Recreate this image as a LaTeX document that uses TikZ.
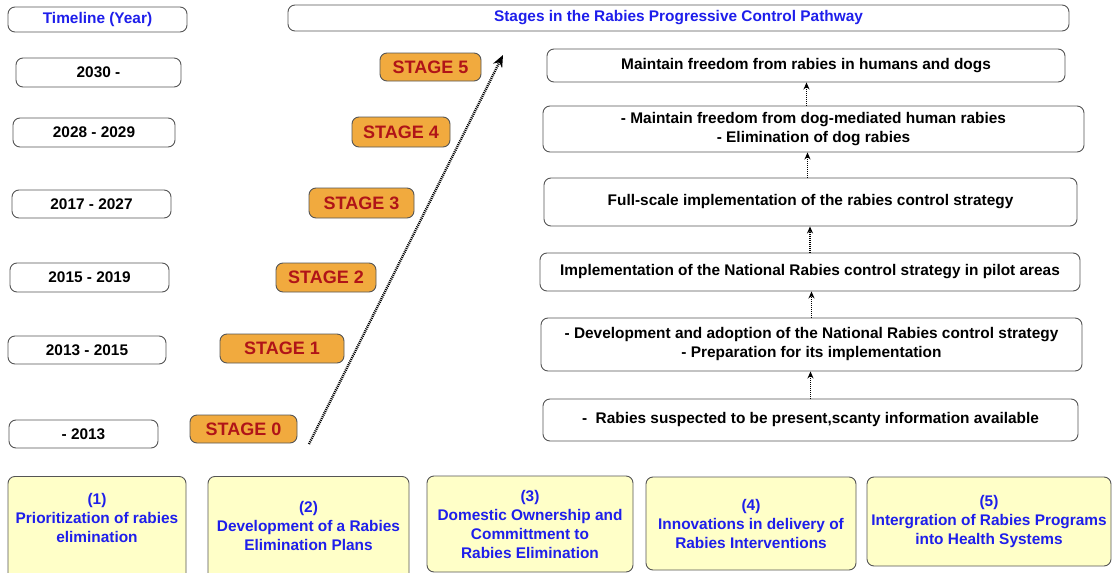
\documentclass[tikz,border=0pt]{standalone}
\usepackage{fontspec}
\setmainfont{Liberation Sans}
\usetikzlibrary{arrows.meta}
\definecolor{hdrblue}{RGB}{30,30,235}
\definecolor{stagefill}{RGB}{241,170,62}
\definecolor{stagetext}{RGB}{176,20,24}
\definecolor{paleyellow}{RGB}{255,255,200}
\definecolor{edgegray}{RGB}{85,85,85}
\tikzset{
  basebox/.style={draw=edgegray, line width=0.9pt, rounded corners=7pt, inner sep=0pt, align=center,
    font=\fontsize{15.4}{19}\selectfont\bfseries},
  headbox/.style={basebox, fill=white, text=hdrblue},
  yearbox/.style={basebox, fill=white, text=black},
  stagebox/.style={basebox, fill=stagefill, text=stagetext, font=\fontsize{18}{22}\selectfont\bfseries},
  pathbox/.style={basebox, fill=white, text=black},
  pillar/.style={basebox, fill=paleyellow, text=hdrblue},
  pillartext/.style={align=center, text=hdrblue, font=\fontsize{15.4}{19}\selectfont\bfseries},
  steparrow/.style={draw=black, line width=1.4pt, dash pattern=on 1pt off 1pt, -{Stealth[length=7pt,width=6pt]}},
  bigarrow/.style={draw=black, line width=2.4pt, dash pattern=on 1pt off 1pt, -{Stealth[length=12pt,width=10pt]}}
}
\begin{document}
\begin{tikzpicture}[x=1pt,y=-1pt]
\useasboundingbox (0,0) rectangle (1112,573);
\clip (0,0) rectangle (1112,573);
% headers
\node[headbox, minimum width=179pt, minimum height=25pt] (tl) at (97.5,19.5) {Timeline (Year)};
\node[headbox, minimum width=781pt, minimum height=26pt] (st) at (678.5,18) {Stages in the Rabies Progressive Control Pathway};
% years
\node[yearbox, minimum width=165pt, minimum height=29pt] (y5) at (98.5,72.5) {2030 -};
\node[yearbox, minimum width=162pt, minimum height=29pt] (y4) at (94,132.5) {2028 - 2029};
\node[yearbox, minimum width=159pt, minimum height=28pt] (y3) at (91.5,204) {2017 - 2027};
\node[yearbox, minimum width=159pt, minimum height=29pt] (y2) at (89.5,277.5) {2015 - 2019};
\node[yearbox, minimum width=158pt, minimum height=28pt] (y1) at (87,350) {2013 - 2015};
\node[yearbox, minimum width=149pt, minimum height=28pt] (y0) at (83.5,434) {- 2013};
% stages
\node[stagebox, minimum width=101pt, minimum height=28pt] (s5) at (430.5,67) {STAGE 5};
\node[stagebox, minimum width=98pt, minimum height=30pt] (s4) at (401,132) {STAGE 4};
\node[stagebox, minimum width=105pt, minimum height=30pt] (s3) at (361.5,203) {STAGE 3};
\node[stagebox, minimum width=100pt, minimum height=29pt] (s2) at (326,277.5) {STAGE 2};
\node[stagebox, minimum width=124pt, minimum height=29pt] (s1) at (282,348.5) {STAGE 1};
\node[stagebox, minimum width=107pt, minimum height=28pt] (s0) at (243.5,429) {STAGE 0};
% diagonal progression arrow
\coordinate (dstart) at (309,444);
\coordinate (dend) at (503,55);
\draw[bigarrow] (dstart) -- (dend);
% pathway boxes
\node[pathbox, minimum width=518pt, minimum height=33pt] (r5) at (806,65.5) {Maintain freedom from rabies in humans and dogs};
\node[pathbox, minimum width=541pt, minimum height=46pt] (r4) at (813.5,129) {- Maintain freedom from dog-mediated human rabies\\- Elimination of dog rabies};
\node[pathbox, minimum width=533pt, minimum height=48pt] (r3) at (810.5,202) {Full-scale implementation of the rabies control strategy};
\node[pathbox, minimum width=540pt, minimum height=38pt] (r2) at (810,272) {Implementation of the National Rabies control strategy in pilot areas};
\node[pathbox, minimum width=541pt, minimum height=53pt] (r1) at (811.5,344.5) {- Development and adoption of the National Rabies control strategy\\- Preparation for its implementation};
\node[pathbox, minimum width=535pt, minimum height=42pt] (r0) at (810.5,420) {-\ \ Rabies suspected to be present,scanty information available};
% step arrows
\draw[steparrow] ([xshift=-7pt]r4.north) -- ([xshift=-7pt]r4.north |- r5.south);
\draw[steparrow] ([xshift=-3pt]r3.north) -- ([xshift=-3pt]r3.north |- r4.south);
\draw[steparrow] (r2.north) -- (r2.north |- r3.south);
\draw[steparrow] (r1.north) -- (r1.north |- r2.south);
\draw[steparrow] (r0.north) -- (r0.north |- r1.south);
% pillars
\node[pillar, minimum width=178pt, minimum height=104pt, anchor=north] (p1) at (97,476) {};
\node[pillartext] (p1t) at (97,518) {(1)\\Prioritization of rabies\\elimination};
\node[pillar, minimum width=201pt, minimum height=104pt, anchor=north] (p2) at (308.5,476) {};
\node[pillartext] (p2t) at (308.5,526) {(2)\\Development of a Rabies\\Elimination Plans};
\node[pillar, minimum width=206pt, minimum height=96pt] (p3) at (530,524) {(3)\\Domestic Ownership and\\Committment to\\Rabies Elimination};
\node[pillar, minimum width=210pt, minimum height=93pt] (p4) at (751,523.5) {(4)\\Innovations in delivery of\\Rabies Interventions};
\node[pillar, minimum width=244pt, minimum height=89pt] (p5) at (989,521.5) {(5)\\Intergration of Rabies Programs\\into Health Systems};
\end{tikzpicture}
\end{document}
